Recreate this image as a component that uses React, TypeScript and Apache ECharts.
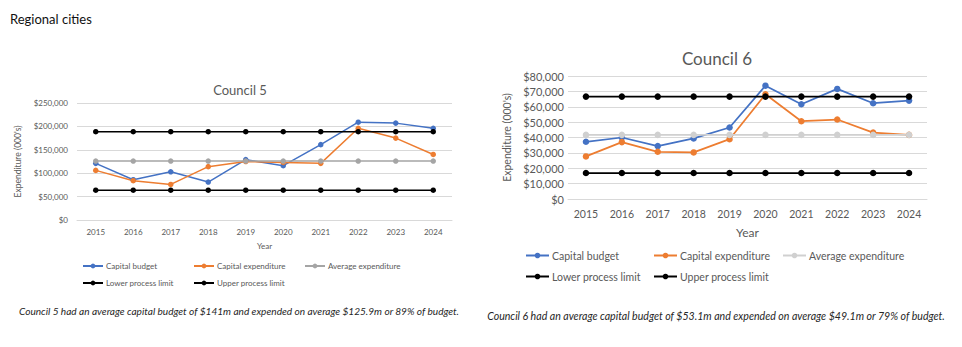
import React, { useEffect, useRef } from "react";
import * as echarts from "echarts";

const years = ["2015", "2016", "2017", "2018", "2019", "2020", "2021", "2022", "2023", "2024"];

const c5Budget = [121000, 86000, 103000, 81000, 129000, 116000, 161000, 209000, 207000, 196000];
const c5Expenditure = [106000, 84000, 76000, 114000, 125000, 123000, 121000, 196000, 175000, 140000];
const c5Average = [125900, 125900, 125900, 125900, 125900, 125900, 125900, 125900, 125900, 125900];
const c5Lower = [63600, 63600, 63600, 63600, 63600, 63600, 63600, 63600, 63600, 63600];
const c5Upper = [188600, 188600, 188600, 188600, 188600, 188600, 188600, 188600, 188600, 188600];

const c6Budget = [37200, 40000, 34400, 39400, 46500, 73700, 61600, 71600, 62300, 64000];
const c6Expenditure = [27700, 37000, 30700, 30300, 38900, 68100, 50600, 51700, 43200, 41700];
const c6Average = [41700, 41700, 41700, 41700, 41700, 41700, 41700, 41700, 41700, 41700];
const c6Lower = [16900, 16900, 16900, 16900, 16900, 16900, 16900, 16900, 16900, 16900];
const c6Upper = [66600, 66600, 66600, 66600, 66600, 66600, 66600, 66600, 66600, 66600];

const seriesNames = ["Capital budget", "Capital expenditure", "Average expenditure", "Lower process limit", "Upper process limit"];

const FONT = "Lato, 'Open Sans', sans-serif";
const AXIS_TEXT = "#595959";

type Cfg = {
  title: string;
  titleSize: number;
  titleTop: number;
  titleX: number;
  grid: { left: number; right: number; top: number; bottom: number };
  max: number;
  interval: number;
  tickSize: number;
  xTickSize: number;
  yLabelMargin: number;
  xLabelMargin: number;
  nameSize: number;
  yNameSize: number;
  xNameGap: number;
  yNameGap: number;
  lineWidth: number;
  symbolSize: number;
  avgColor: string;
  data: number[][];
  legendSize: number;
  legendIconW: number;
  legendIconH: number;
  legendPos: { left: number; top: number }[];
  caption: string;
  captionX: number;
  captionY: number;
  captionSize: number;
  extra?: any[];
};

function makeOption(c: Cfg) {
  const colors = ["#4472C4", "#ED7D31", c.avgColor, "#000000", "#000000"];
  const series = seriesNames.map((n, i) => ({
    type: "line",
    name: n,
    data: c.data[i],
    symbol: "circle",
    symbolSize: c.symbolSize,
    itemStyle: { color: colors[i] },
    lineStyle: { color: colors[i], width: c.lineWidth },
  }));
  const legends = seriesNames.map((n, i) => ({
    data: [n],
    left: c.legendPos[i].left,
    top: c.legendPos[i].top,
    itemWidth: c.legendIconW,
    itemHeight: c.legendIconH,
    padding: 0,
    itemGap: 0,
    selectedMode: false,
    textStyle: { fontFamily: FONT, fontSize: c.legendSize, color: AXIS_TEXT, padding: [0, 0, 0, -2] },
  }));
  return {
    animation: false,
    title: {
      text: c.title,
      left: c.titleX,
      textAlign: "center",
      top: c.titleTop,
      textStyle: { fontFamily: FONT, fontSize: c.titleSize, fontWeight: "normal", color: AXIS_TEXT },
    },
    legend: legends,
    grid: { ...c.grid, containLabel: false },
    xAxis: {
      type: "category",
      data: years,
      boundaryGap: true,
      name: "Year",
      nameLocation: "middle",
      nameGap: c.xNameGap,
      nameTextStyle: { fontFamily: FONT, fontSize: c.nameSize, color: AXIS_TEXT },
      axisLine: { lineStyle: { color: "#d9d9d9" } },
      axisTick: { show: false },
      axisLabel: { fontFamily: FONT, fontSize: c.xTickSize, color: AXIS_TEXT, margin: c.xLabelMargin },
    },
    yAxis: {
      type: "value",
      min: 0,
      max: c.max,
      interval: c.interval,
      name: "Expenditure (000's)",
      nameLocation: "middle",
      nameGap: c.yNameGap,
      nameRotate: 90,
      nameTextStyle: { fontFamily: FONT, fontSize: c.yNameSize, color: AXIS_TEXT },
      axisLine: { show: false },
      axisTick: { show: false },
      splitLine: { lineStyle: { color: "#d9d9d9", width: 1 } },
      axisLabel: {
        fontFamily: FONT,
        fontSize: c.tickSize,
        color: AXIS_TEXT,
        margin: c.yLabelMargin,
        formatter: (v: number) => "$" + v.toLocaleString("en-US"),
      },
    },
    series,
    graphic: [
      {
        type: "text",
        x: c.captionX,
        y: c.captionY,
        style: {
          text: c.caption,
          fontFamily: FONT,
          fontStyle: "italic",
          fontSize: c.captionSize,
          fill: "#262626",
          textAlign: "center",
          textVerticalAlign: "middle",
        },
      },
      ...(c.extra || []),
    ],
  };
}

const leftCfg: Cfg = {
  title: "Council 5",
  titleSize: 13,
  titleTop: 78,
  titleX: 235,
  grid: { left: 77, right: 28, top: 103, bottom: 127 },
  max: 250000,
  interval: 50000,
  tickSize: 8,
  xTickSize: 8,
  yLabelMargin: 9,
  xLabelMargin: 8,
  nameSize: 8,
  yNameSize: 8.5,
  xNameGap: 22,
  yNameGap: 47,
  lineWidth: 1.5,
  symbolSize: 5.5,
  avgColor: "#A5A5A5",
  data: [c5Budget, c5Expenditure, c5Average, c5Lower, c5Upper],
  legendSize: 8,
  legendIconW: 20,
  legendIconH: 6,
  legendPos: [
    { left: 82, top: 262 },
    { left: 193, top: 262 },
    { left: 304, top: 262 },
    { left: 82, top: 279 },
    { left: 193, top: 279 },
  ],
  caption: "Council 5 had an average capital budget of $141m and expended on average $125.9m or 89% of budget.",
  captionX: 239,
  captionY: 311,
  captionSize: 10.1,
  extra: [
    {
      type: "text",
      x: 10,
      y: 19,
      style: {
        text: "Regional cities",
        fontFamily: FONT,
        fontSize: 13,
        fill: "#111111",
        textAlign: "left",
        textVerticalAlign: "middle",
      },
    },
  ],
};

const rightCfg: Cfg = {
  title: "Council 6",
  titleSize: 17,
  titleTop: 45,
  titleX: 232,
  grid: { left: 88, right: 35, top: 76, bottom: 148 },
  max: 80000,
  interval: 10000,
  tickSize: 11,
  xTickSize: 10.5,
  yLabelMargin: 4,
  xLabelMargin: 9,
  nameSize: 12,
  yNameSize: 10.5,
  xNameGap: 27,
  yNameGap: 56,
  lineWidth: 1.75,
  symbolSize: 6.5,
  avgColor: "#D0D0D0",
  data: [c6Budget, c6Expenditure, c6Average, c6Lower, c6Upper],
  legendSize: 10.5,
  legendIconW: 23,
  legendIconH: 7,
  legendPos: [
    { left: 45, top: 250 },
    { left: 173, top: 250 },
    { left: 302, top: 250 },
    { left: 45, top: 271 },
    { left: 173, top: 271 },
  ],
  caption: "Council 6 had an average capital budget of $53.1m and expended on average $49.1m or 79% of budget.",
  captionX: 236,
  captionY: 316,
  captionSize: 10.6,
};

function Chart({ cfg, left, width }: { cfg: Cfg; left: number; width: number }) {
  const ref = useRef<HTMLDivElement>(null);
  useEffect(() => {
    if (!ref.current) return;
    const chart = echarts.init(ref.current, undefined, { renderer: "svg" });
    chart.setOption(makeOption(cfg) as any);
    return () => chart.dispose();
  }, [cfg]);
  return <div ref={ref} style={{ position: "absolute", left, top: 0, width, height: 347 }} />;
}

export default function App() {
  return (
    <div style={{ position: "absolute", left: 0, top: 0, width: 962, height: 347, background: "#fff" }}>
      <Chart cfg={leftCfg} left={0} width={480} />
      <Chart cfg={rightCfg} left={480} width={482} />
    </div>
  );
}
